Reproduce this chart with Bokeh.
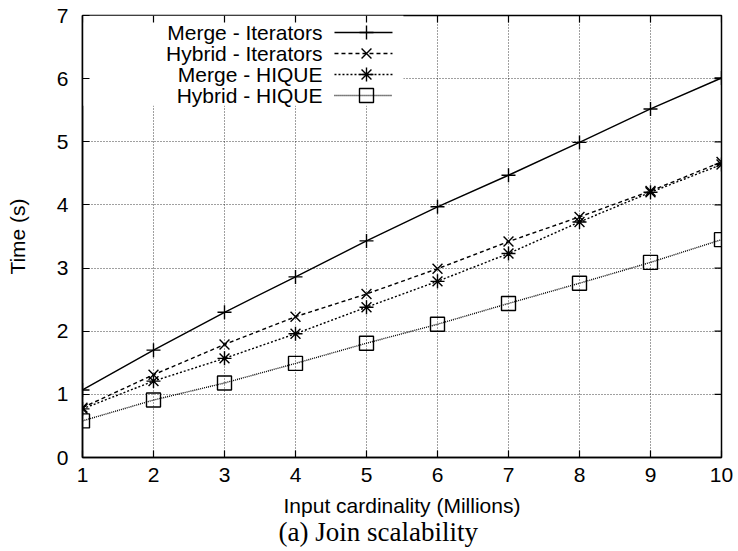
from bokeh.plotting import figure
from bokeh.models import Range1d, LinearAxis, FixedTicker, Label, Title, Grid
from bokeh.embed import file_html
from bokeh.resources import INLINE

# ---- data ----
cardinality = [1, 2, 3, 4, 5, 6, 7, 8, 9, 10]
merge_iterators = [1.07, 1.70, 2.30, 2.86, 3.43, 3.97, 4.47, 4.99, 5.52, 6.01]
hybrid_iterators = [0.79, 1.31, 1.79, 2.23, 2.59, 2.99, 3.42, 3.81, 4.22, 4.68]
merge_hique = [0.77, 1.21, 1.57, 1.96, 2.38, 2.79, 3.23, 3.73, 4.20, 4.64]
hybrid_hique = [0.58, 0.91, 1.18, 1.49, 1.81, 2.11, 2.44, 2.76, 3.09, 3.45]
series_names = ["Merge - Iterators", "Hybrid - Iterators", "Merge - HIQUE", "Hybrid - HIQUE"]
x_ticks = [1, 2, 3, 4, 5, 6, 7, 8, 9, 10]
y_ticks = [0, 1, 2, 3, 4, 5, 6, 7]

SANS = "Liberation Sans"
FS = "21px"
X0, X1, Y0, Y1 = 1, 10, 0, 7
FRAME_W, FRAME_H = 639, 442          # frame size in px (738-82-17, 551-15-94)
TICK_PX = 7

p = figure(width=738, height=551, output_backend="svg", toolbar_location=None,
           x_range=Range1d(X0, X1), y_range=Range1d(Y0, Y1),
           x_axis_type=None, y_axis_type=None,
           min_border_left=82, min_border_right=17, min_border_top=15, min_border_bottom=94)
p.background_fill_color = "white"
p.border_fill_color = "white"
p.outline_line_color = "black"
p.outline_line_width = 1.5


def make_axis(ticks, label):
    ax = LinearAxis(ticker=FixedTicker(ticks=ticks))
    ax.major_tick_in = TICK_PX
    ax.major_tick_out = 0
    ax.minor_tick_in = 0
    ax.minor_tick_out = 0
    ax.axis_line_color = "black"
    ax.axis_line_width = 1.5
    ax.major_tick_line_color = "black"
    ax.major_tick_line_width = 1.2
    ax.major_label_text_font = SANS
    ax.major_label_text_color = "black"
    ax.major_label_text_font_size = FS
    ax.axis_label = label
    ax.axis_label_text_font = SANS
    ax.axis_label_text_font_size = FS
    ax.axis_label_text_font_style = "normal"
    ax.axis_label_text_color = "black"
    return ax


xb = make_axis(x_ticks, "Input cardinality (Millions)")
xb.major_label_standoff = 10
xb.axis_label_standoff = 9
p.add_layout(xb, "below")
yl = make_axis(y_ticks, "Time (s)")
yl.major_label_standoff = 14
yl.axis_label_standoff = 25
p.add_layout(yl, "left")

cap = Title(text="(a) Join scalability", align="left", text_font="Liberation Serif",
            text_font_size="27px", text_font_style="normal", text_color="black",
            offset=196, standoff=-10)
p.add_layout(cap, "below")

# dotted grid
for dim, tk in ((0, x_ticks), (1, y_ticks)):
    g = Grid(dimension=dim, ticker=FixedTicker(ticks=tk))
    g.grid_line_color = "black"
    g.grid_line_alpha = 0.75
    g.grid_line_dash = "1 2"
    g.grid_line_width = 1
    p.add_layout(g, "center")

# white key area hiding the grid (drawn first among glyphs)
p.quad(left=[1], right=[5.52], top=[7], bottom=[5.57], fill_color="white",
       fill_alpha=1, line_alpha=0)

# mirrored inward ticks on top and right edges
dy = TICK_PX * (Y1 - Y0) / FRAME_H
dx = TICK_PX * (X1 - X0) / FRAME_W
p.segment(x0=x_ticks, y0=[Y1] * len(x_ticks), x1=x_ticks, y1=[Y1 - dy] * len(x_ticks),
          line_color="black", line_width=1.2)
p.segment(x0=[X1] * len(y_ticks), y0=y_ticks, x1=[X1 - dx] * len(y_ticks), y1=y_ticks,
          line_color="black", line_width=1.2)

styles = [
    dict(dash="solid", marker="cross"),
    dict(dash="4 3", marker="x"),
    dict(dash="2 2", marker="asterisk"),
    dict(dash="1 1", marker="square"),
]
all_series = [merge_iterators, hybrid_iterators, merge_hique, hybrid_hique]

# key layout (gnuplot style: text right-aligned, sample to its right)
KEY_TEXT_X = 4.38
KEY_LINE_X = (4.549, 5.366)
KEY_MARK_X = 5.0
KEY_ROWS = [6.731, 6.398, 6.066, 5.733]

for name, ys, st, ky in zip(series_names, all_series, styles, KEY_ROWS):
    p.line(cardinality, ys, line_color="black", line_width=1.4, line_dash=st["dash"])
    p.scatter(cardinality, ys, marker=st["marker"], size=14, line_color="black",
              fill_alpha=0, line_width=1.4)
    # key sample
    p.line(list(KEY_LINE_X), [ky, ky], line_color="black", line_width=1.4, line_dash=st["dash"])
    p.scatter([KEY_MARK_X], [ky], marker=st["marker"], size=14, line_color="black",
              fill_alpha=0, line_width=1.4)
    p.add_layout(Label(x=KEY_TEXT_X, y=ky, text=name, text_align="right",
                       text_baseline="middle", text_font=SANS, text_font_size=FS,
                       text_color="black"))

open("out.html", "w").write(file_html(p, INLINE))
